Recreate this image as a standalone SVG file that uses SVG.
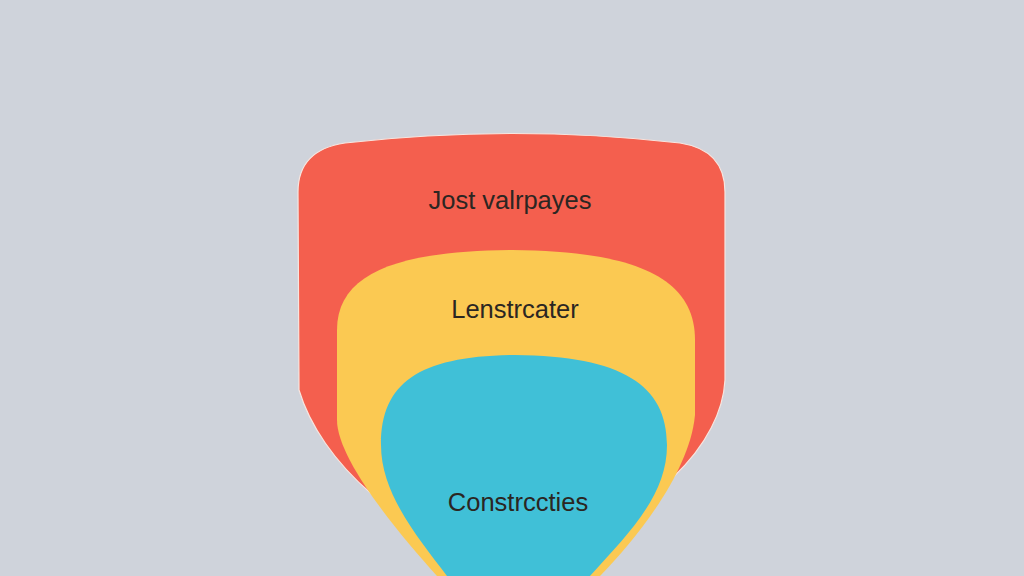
<svg xmlns="http://www.w3.org/2000/svg" width="1024" height="576" viewBox="0 0 1024 576">
<style>
.lbl{font-family:"Liberation Sans",Arial,sans-serif;font-size:25.5px;text-anchor:middle;fill:#2b2622}
</style>
<rect width="1024" height="576" fill="#cfd3db"/>
<g id="outer">
<path d="M298,192 Q298,150 345,143 Q512,124 680,143 Q725,150 725,192 L725,380 C722,440 660,520 512,560 C400,540 320,460 299,390 Z" fill="#f45f4e" stroke="#f7e6e0" stroke-width="1.2"/>
<text class="lbl" x="510" y="209">Jost valrpayes</text>
</g>
<g id="middle">
<path d="M337,330 C337,272 400,251 512,250 C632,251 695,276 695,340 L695,415 C690,470 640,535 600,576 L437,576 C400,535 337,460 337,420 Z" fill="#fbc952"/>
<text class="lbl" x="515" y="318">Lenstrcater</text>
</g>
<g id="inner">
<path d="M381,445 C381,382 420,356 515,355 C622,356 667,385 667,445 C667,495 630,532 590,576 L447,576 C420,540 381,495 381,445 Z" fill="#40c0d7"/>
<text class="lbl" x="518" y="511">Constrccties</text>
</g>
<g id="connectors"/>
</svg>
